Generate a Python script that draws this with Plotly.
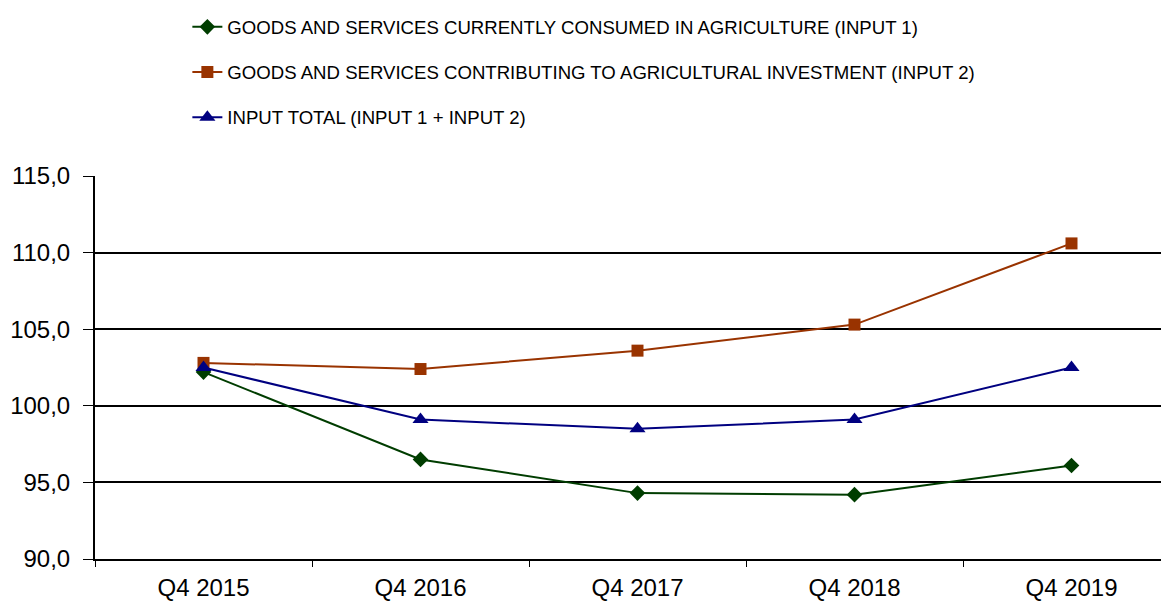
import plotly.graph_objects as go

categories = ["Q4 2015", "Q4 2016", "Q4 2017", "Q4 2018", "Q4 2019"]
input1 = [102.2, 96.5, 94.3, 94.2, 96.1]
input2 = [102.8, 102.4, 103.6, 105.3, 110.6]
total = [102.5, 99.1, 98.5, 99.1, 102.5]

names = [
    "GOODS AND SERVICES CURRENTLY CONSUMED IN AGRICULTURE (INPUT 1)",
    "GOODS AND SERVICES CONTRIBUTING TO AGRICULTURAL INVESTMENT (INPUT 2)",
    "INPUT TOTAL (INPUT 1 + INPUT 2)",
]
colors = ["#003d00", "#993300", "#000080"]
symbols = ["diamond", "square", "triangle-up"]
sizes = [12, 12, 14]

fig = go.Figure()
for i, (vals, nm) in enumerate(zip([input1, input2, total], names)):
    fig.add_trace(go.Scatter(
        x=categories, y=vals, name=nm, mode="lines+markers",
        line=dict(color=colors[i], width=2),
        marker=dict(symbol=symbols[i], size=sizes[i], color=colors[i]),
        legendgroup=str(i),
    ))

# page body has an 8px margin, so the figure is offset by (8, 8)
fig.update_layout(
    width=1161, height=596,
    margin=dict(l=87, r=0, t=168, b=45, autoexpand=False),
    paper_bgcolor="white", plot_bgcolor="white",
    separators=",.",
    font=dict(family="Liberation Sans, Arial, sans-serif", color="black"),
    legend=dict(
        x=0.086, y=1.438, xanchor="left", yanchor="top",
        font=dict(family="Liberation Sans Narrow, Arial Narrow, Liberation Sans, sans-serif", size=18.6),
        tracegroupgap=18, bgcolor="rgba(0,0,0,0)",
    ),
    showlegend=True,
)
fig.update_xaxes(
    type="category", range=[-0.5, -0.5 + 1074 / 217], automargin=False,
    showgrid=False, showline=True, linecolor="black", linewidth=2,
    ticks="outside", tickson="boundaries", ticklen=6, tickcolor="black", tickwidth=1,
    ticklabelstandoff=6,
    tickfont=dict(size=24), zeroline=False,
)
fig.update_yaxes(
    range=[90, 115], dtick=5, tickformat=".1f", automargin=False,
    showgrid=True, gridcolor="black", gridwidth=1.5,
    showline=True, linecolor="black", linewidth=2,
    ticks="outside", ticklen=10, tickcolor="black", tickwidth=1,
    ticklabelstandoff=8,
    tickfont=dict(size=24), zeroline=False,
)
fig.write_html("out.html")
